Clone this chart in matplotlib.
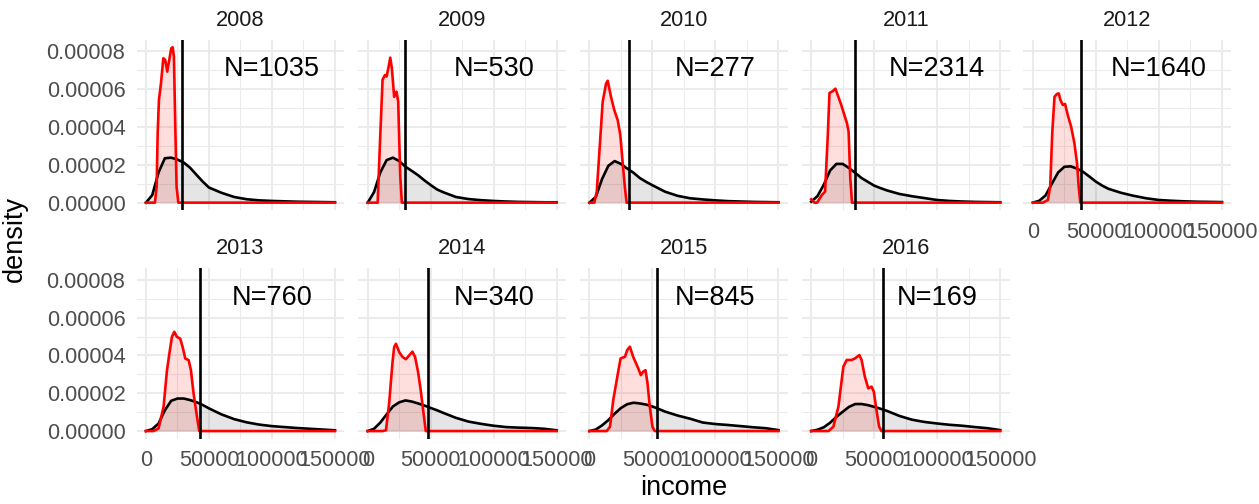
import matplotlib.pyplot as plt
import numpy as np

# data (income in thousands, density in 1e-5)
years = [2008, 2009, 2010, 2011, 2012, 2013, 2014, 2015, 2016]
n_obs = [1035, 530, 277, 2314, 1640, 760, 340, 845, 169]
cutoff_k = [28.3, 29.5, 31.6, 35.0, 38.4, 43.1, 47.9, 53.7, 57.1]

income_grid_k = [0, 5, 10, 15, 20, 25, 30, 35, 40, 45, 50, 55, 60, 70, 80, 90, 100, 110, 120, 130, 140, 150]

all_density = {
    2008: [0, 0.4, 1.6, 2.35, 2.38, 2.28, 2.12, 1.85, 1.48, 1.12, 0.8, 0.66, 0.52, 0.3, 0.18, 0.12, 0.09, 0.07, 0.05, 0.04, 0.03, 0.02],
    2009: [0, 0.55, 1.6, 2.25, 2.38, 2.2, 1.9, 1.68, 1.45, 1.18, 0.93, 0.7, 0.55, 0.3, 0.19, 0.13, 0.09, 0.06, 0.04, 0.03, 0.02, 0.02],
    2010: [0, 0.3, 1.25, 1.95, 2.2, 2.05, 1.8, 1.58, 1.3, 1.1, 0.92, 0.75, 0.58, 0.36, 0.23, 0.17, 0.12, 0.08, 0.06, 0.04, 0.03, 0.02],
    2011: [0.05, 0.35, 0.95, 1.7, 2.05, 2.05, 1.83, 1.57, 1.3, 1.1, 0.9, 0.77, 0.65, 0.46, 0.34, 0.24, 0.14, 0.09, 0.06, 0.04, 0.03, 0.02],
    2012: [0, 0.1, 0.38, 1.0, 1.6, 1.9, 1.92, 1.8, 1.62, 1.37, 1.11, 0.9, 0.73, 0.52, 0.36, 0.23, 0.14, 0.1, 0.07, 0.05, 0.04, 0.03],
    2013: [0, 0.1, 0.4, 1.1, 1.6, 1.72, 1.72, 1.64, 1.53, 1.38, 1.2, 1.04, 0.88, 0.63, 0.46, 0.34, 0.26, 0.21, 0.16, 0.12, 0.08, 0.04],
    2014: [0, 0.12, 0.45, 0.88, 1.3, 1.52, 1.62, 1.56, 1.46, 1.35, 1.22, 1.1, 0.96, 0.7, 0.5, 0.38, 0.28, 0.21, 0.18, 0.16, 0.12, 0.04],
    2015: [0, 0.08, 0.3, 0.58, 0.92, 1.22, 1.42, 1.5, 1.46, 1.4, 1.3, 1.17, 1.03, 0.82, 0.65, 0.45, 0.37, 0.32, 0.26, 0.2, 0.15, 0.05],
    2016: [0, 0.07, 0.2, 0.44, 0.75, 1.02, 1.28, 1.43, 1.43, 1.37, 1.28, 1.18, 1.07, 0.8, 0.6, 0.48, 0.4, 0.33, 0.28, 0.21, 0.15, 0.05],
}

low_income_k = {
    2008: [0, 7.1, 8.5, 9.3, 10.3, 11.9, 13.8, 15.3, 16.9, 18.5, 20.1, 21.2, 22.2, 23.3, 24.3, 25.7, 150],
    2009: [0, 7.9, 10, 11.8, 13.7, 15.0, 16.6, 17.9, 19.2, 21, 22.9, 24.2, 25.8, 27.1, 150],
    2010: [0, 3.9, 5.8, 7.9, 10.5, 13.2, 14.5, 17.1, 19.7, 22.4, 24.5, 26.3, 28.2, 29.5, 150],
    2011: [0, 2.6, 4.7, 8.4, 11, 13.2, 14.5, 17.1, 19.2, 21, 23.7, 26.3, 28.4, 29.7, 31, 32.4, 150],
    2012: [0, 7.9, 11.8, 13.7, 15.3, 17.1, 19, 20.5, 21.8, 23.7, 25.5, 27.6, 30.3, 32.9, 35, 36.3, 37.6, 150],
    2013: [0, 6.1, 10, 14, 16.7, 18.8, 20.6, 22.5, 24.6, 27.2, 29.4, 31.2, 33.9, 35.7, 37.8, 40.5, 42.3, 150],
    2014: [0, 11.8, 14.5, 17.1, 19.7, 21, 22.4, 25, 27.6, 30.3, 32.9, 35.5, 37.6, 40, 42.1, 44.2, 46.1, 150],
    2015: [0, 13.7, 16.3, 18.9, 22.1, 24.7, 28.2, 30, 32.1, 34.7, 38.7, 40.8, 42.6, 44.5, 46.1, 47.9, 50, 51.8, 150],
    2016: [0, 13.7, 17.6, 21.6, 25.5, 28.2, 32.1, 34.7, 38.2, 40, 42.6, 45.3, 47.9, 49.7, 51.8, 53.9, 55.8, 150],
}
low_density = {
    2008: [0, 0, 0.85, 3.67, 5.43, 6.3, 7.64, 7.55, 6.93, 7.55, 8.17, 8.22, 7.72, 4.02, 0.85, 0, 0],
    2009: [0, 0, 3.6, 6.5, 6.75, 6.67, 7.2, 7.67, 7.1, 5.6, 5.87, 5.34, 1.46, 0, 0],
    2010: [0, 0, 0.58, 2.7, 5.34, 6.3, 6.45, 5.6, 4.9, 4.37, 3.58, 2.17, 0.76, 0, 0],
    2011: [0.18, 0, 0, 0.4, 0.58, 3.6, 5.8, 5.9, 6.03, 5.7, 5.2, 4.64, 4.2, 3.75, 1.3, 0, 0],
    2012: [0, 0, 0.14, 0.85, 3.67, 5.6, 5.75, 5.78, 5.43, 5.17, 5.22, 4.64, 4.02, 3.14, 2.08, 0.85, 0, 0],
    2013: [0, 0, 0.14, 1.29, 3.22, 4.19, 4.98, 5.25, 4.98, 4.89, 4.37, 3.84, 3.75, 3.22, 1.99, 0.76, 0, 0],
    2014: [0, 0, 0.04, 1.53, 3.65, 4.44, 4.62, 4.18, 3.92, 3.8, 4.0, 4.2, 3.92, 3.12, 2.15, 1.0, 0, 0],
    2015: [0, 0, 0.23, 1.64, 2.87, 3.84, 3.93, 4.29, 4.46, 3.93, 3.32, 2.96, 3.14, 3.22, 2.52, 1.29, 0.23, 0, 0],
    2016: [0, 0, 0.23, 1.29, 3.4, 3.76, 3.76, 3.84, 4.02, 3.76, 2.87, 2.26, 2.35, 2.08, 1.11, 0.23, 0, 0],
}

K = 1000.0
UNIT = 1e-5

# layout in pixels (figure is 1259 x 504)
W, H = 1259, 504
panel_w, panel_h = 207.9, 170.5
col_left = [136.5 + c * 221.75 for c in range(5)]
row_bottom = [210.4, 438.8]

grid_col = '#EBEBEB'
line_w = 1.9
plt.rcParams['font.family'] = ['Liberation Sans', 'DejaVu Sans']

fig = plt.figure(figsize=(W / 100, H / 100), dpi=100)

for i, year in enumerate(years):
    row, col = divmod(i, 5)
    left = col_left[col] / W
    bottom = (H - row_bottom[row]) / H
    ax = fig.add_axes([left, bottom, panel_w / W, panel_h / H])

    ax.set_xlim(-7500, 157500)
    ax.set_ylim(-0.41 * UNIT, 8.61 * UNIT)

    ax.set_xticks([0, 50000, 100000, 150000])
    ax.set_xticks([25000, 75000, 125000], minor=True)
    ax.set_yticks(np.array([0, 2, 4, 6, 8]) * UNIT)
    ax.set_yticks(np.array([1, 3, 5, 7]) * UNIT, minor=True)
    ax.grid(which='major', color=grid_col, linewidth=1.5)
    ax.grid(which='minor', color=grid_col, linewidth=0.75)
    ax.set_axisbelow(True)
    for s in ax.spines.values():
        s.set_visible(False)
    ax.tick_params(which='both', length=0, labelsize=15.7, labelcolor='#4D4D4D', pad=8)

    if col == 0:
        ax.set_yticklabels(['%.5f' % (v * UNIT) for v in [0, 2, 4, 6, 8]])
    else:
        ax.set_yticklabels([])
    if row == 1 or year == 2012:
        ax.set_xticklabels(['0', '50000', '100000', '150000'])
    else:
        ax.set_xticklabels([])

    bx = np.array(income_grid_k) * K
    by = np.array(all_density[year]) * UNIT
    rx = np.array(low_income_k[year]) * K
    ry = np.array(low_density[year]) * UNIT

    ax.fill_between(bx, 0, by, color='black', alpha=0.1, linewidth=0)
    ax.plot(bx, by, color='black', linewidth=line_w)
    ax.fill_between(rx, 0, ry, color='red', alpha=0.13, linewidth=0)
    ax.plot(rx, ry, color='red', linewidth=line_w)
    ax.axvline(cutoff_k[i] * K, color='black', linewidth=line_w)

    ax.text(100000, 7.05 * UNIT, 'N=%d' % n_obs[i], ha='center', va='center',
            fontsize=19.5, color='black')
    ax.text(0.5, 1.0 + 19.5 / panel_h, str(year), transform=ax.transAxes,
            ha='center', va='center', fontsize=15.7, color='#1A1A1A')

fig.text(684 / W, 1 - 488 / H, 'income', ha='center', va='center', fontsize=19.5)
fig.text(15 / W, 1 - 239 / H, 'density', ha='center', va='center', fontsize=19.5, rotation=90)

fig.savefig('out.png', dpi=100, facecolor='white')
